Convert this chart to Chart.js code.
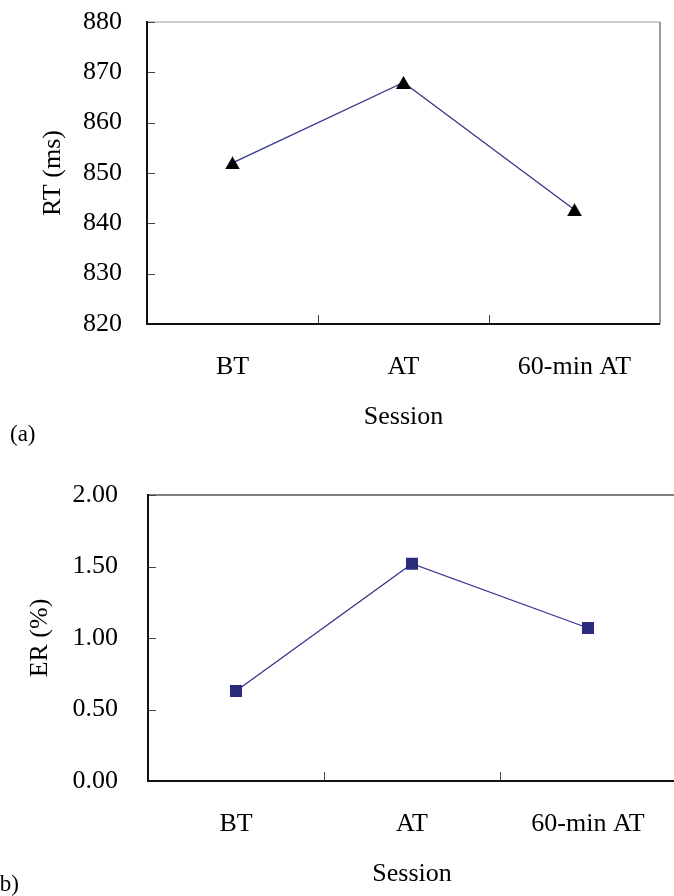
<!DOCTYPE html>
<html>
<head>
<meta charset="utf-8">
<script src="https://cdn.jsdelivr.net/npm/chart.js@4.4.1/dist/chart.umd.min.js"></script>
<style>
  body { margin: 0; width: 674px; height: 896px; overflow: hidden; position: relative; background: #fff; }
  .box { position: absolute; left: 0; }
  .tag { position: absolute; font-family: 'Liberation Serif', 'Times New Roman', serif; font-size: 23px; line-height: 23px; color: #000; }
</style>
</head>
<body>
<div class="box" style="top:0"><canvas id="chartA" width="674" height="448"></canvas></div>
<div class="box" style="top:448px"><canvas id="chartB" width="680" height="448"></canvas></div>
<div class="tag" style="left:10px;top:422px">(a)</div>
<div class="tag" style="left:-8px;top:872px">(b)</div>

<script>
// Data
const sessions = ['BT', 'AT', '60-min AT'];
const rtValues = [852, 868, 842.7];   // RT (ms)
const erValues = [0.63, 1.52, 1.07];  // ER (%)
const rtRange = [820, 880, 10];       // min, max, step
const erRange = [0, 2, 0.5];

const serif = "'Liberation Serif', 'Times New Roman', serif";
const navy = '#35358f';

// Triangle marker, centred on its bounding box like the original
function triangleMarker(w, h, color) {
  const c = document.createElement('canvas');
  c.width = w; c.height = h;
  const g = c.getContext('2d');
  g.fillStyle = color;
  g.beginPath();
  g.moveTo(w / 2, 0);
  g.lineTo(w, h);
  g.lineTo(0, h);
  g.closePath();
  g.fill();
  return c;
}

// Keep the plot area exactly where the layout padding puts it
function fixScale(size, isX) {
  return s => {
    if (isX) s.height = size; else s.width = size;
    s.paddingTop = s.paddingBottom = s.paddingLeft = s.paddingRight = 0;
  };
}

// Plot frame: black left/bottom axes, grey top/right edges, ticks pointing inward
const framePlugin = {
  id: 'frame',
  beforeDatasetsDraw(chart, args, opts) {
    const {ctx, chartArea: a, scales: {x, y}} = chart;
    ctx.save();
    ctx.strokeStyle = opts.edgeColor;
    ctx.lineWidth = opts.topWidth;
    ctx.beginPath();
    ctx.moveTo(a.left, a.top);
    ctx.lineTo(a.right, a.top);
    ctx.stroke();
    if (opts.rightWidth) {
      ctx.lineWidth = opts.rightWidth;
      ctx.beginPath();
      ctx.moveTo(a.right, a.top);
      ctx.lineTo(a.right, a.bottom);
      ctx.stroke();
    }

    ctx.strokeStyle = '#444';
    ctx.lineWidth = 1;
    ctx.beginPath();
    y.ticks.forEach(t => {
      const py = Math.round(y.getPixelForValue(t.value)) + 0.5;
      ctx.moveTo(a.left, py);
      ctx.lineTo(a.left + 8, py);
    });
    for (let i = 1; i < sessions.length; i++) {
      const px = Math.round((x.getPixelForValue(i - 1) + x.getPixelForValue(i)) / 2) + 0.5;
      ctx.moveTo(px, a.bottom);
      ctx.lineTo(px, a.bottom - 9);
    }
    ctx.stroke();

    ctx.strokeStyle = '#111';
    ctx.lineWidth = 2;
    ctx.beginPath();
    ctx.moveTo(a.left, a.top - 1);
    ctx.lineTo(a.left, a.bottom);
    ctx.lineTo(a.right, a.bottom);
    ctx.stroke();
    ctx.restore();
  }
};

function makeChart(id, cfg) {
  return new Chart(document.getElementById(id), {
    type: 'line',
    data: {
      labels: sessions,
      datasets: [{
        data: cfg.values,
        borderColor: navy,
        borderWidth: 1.3,
        tension: 0,
        pointStyle: cfg.pointStyle,
        pointRadius: cfg.pointRadius,
        pointBackgroundColor: cfg.pointColor,
        pointBorderWidth: 0,
        pointHoverRadius: cfg.pointRadius
      }]
    },
    options: {
      responsive: false,
      animation: false,
      devicePixelRatio: 1,
      layout: { padding: cfg.padding, autoPadding: false },
      plugins: {
        legend: { display: false },
        tooltip: { enabled: false },
        frame: cfg.frame
      },
      scales: {
        x: {
          type: 'category',
          offset: true,
          afterFit: fixScale(109, true),
          grid: { display: false, drawTicks: false },
          border: { display: false },
          ticks: { color: '#000', font: { family: serif, size: 26 }, padding: 28, maxRotation: 0 },
          title: { display: true, text: 'Session', color: '#000', font: { family: serif, size: 26 }, padding: 0 }
        },
        y: {
          min: cfg.range[0],
          max: cfg.range[1],
          afterFit: fixScale(147, false),
          grid: { display: false, drawTicks: false },
          border: { display: false },
          ticks: {
            stepSize: cfg.range[2],
            color: '#000',
            font: { family: serif, size: 26 },
            padding: cfg.tickPad,
            callback: cfg.tickFormat
          },
          title: { display: true, text: cfg.yTitle, color: '#000', font: { family: serif, size: 26 }, padding: { top: cfg.titlePad, bottom: 0 } }
        }
      }
    },
    plugins: [framePlugin]
  });
}

// (a) reaction time
makeChart('chartA', {
  values: rtValues,
  range: rtRange,
  yTitle: 'RT (ms)',
  pointStyle: triangleMarker(15, 13, '#000'),
  pointRadius: 8,
  pointColor: '#000',
  padding: { top: 22, right: 14, left: 0, bottom: 15 },
  tickPad: 25,
  titlePad: 38,
  tickFormat: v => v,
  frame: { edgeColor: '#999', topWidth: 1, rightWidth: 2 }
});

// (b) error rate
makeChart('chartB', {
  values: erValues,
  range: erRange,
  yTitle: 'ER (%)',
  pointStyle: 'rect',
  pointRadius: 8.5,
  pointColor: '#2b2a7b',
  padding: { top: 47, right: 4, left: 1, bottom: 6 },
  tickPad: 30,
  titlePad: 24,
  tickFormat: v => Number(v).toFixed(2),
  frame: { edgeColor: '#808080', topWidth: 2, rightWidth: 0 }
});
</script>
</body>
</html>
